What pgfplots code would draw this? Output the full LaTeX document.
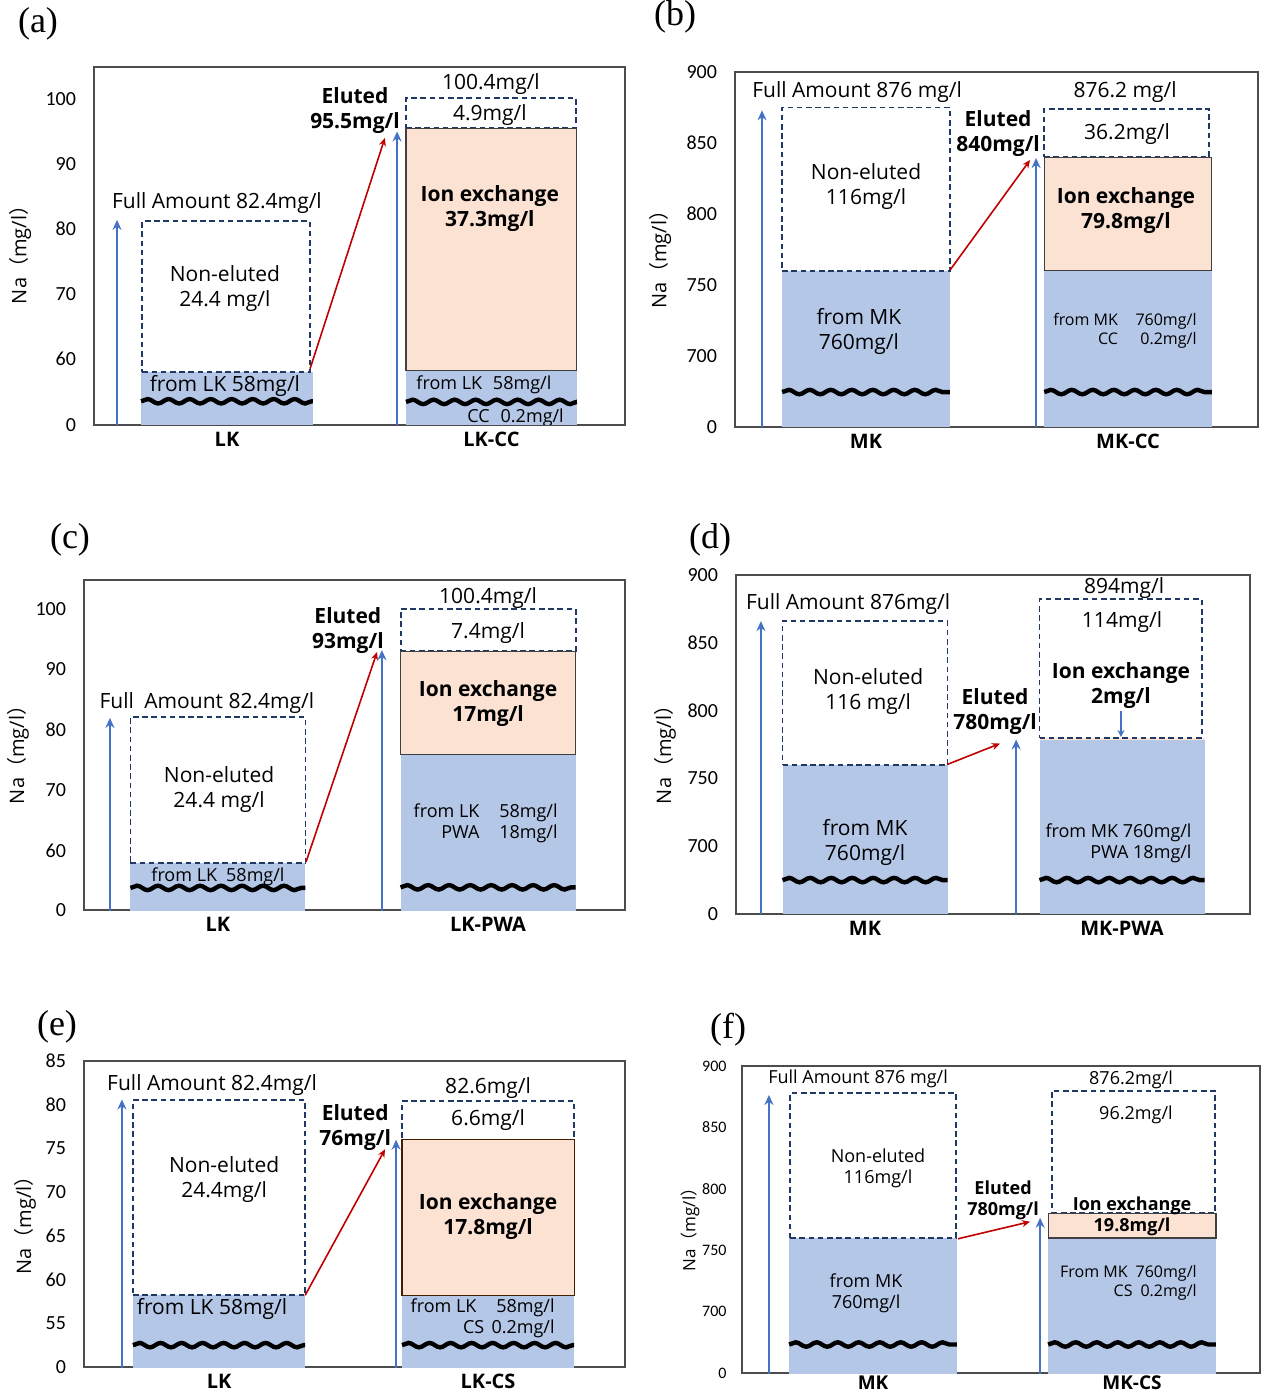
\documentclass[border=0pt]{standalone}
\usepackage{fontspec}
\setmainfont{Open Sans}
\newfontfamily\carlito{Carlito}
\newfontfamily\cjk{Noto Sans CJK SC}
\newfontfamily\panelfont{Liberation Serif}
\usepackage{pgfplots}
\pgfplotsset{compat=1.18}
\usetikzlibrary{arrows.meta,decorations.pathmorphing}

\definecolor{barblue}{RGB}{180,199,231}
\definecolor{peach}{RGB}{251,226,211}
\definecolor{navy}{RGB}{31,56,100}
\definecolor{arrblue}{RGB}{68,114,196}
\definecolor{arrred}{RGB}{192,0,0}

\newcommand{\fr}{\fontsize{10.5}{12.5}\selectfont}
\newcommand{\fb}{\bfseries\fontsize{10.5}{12.5}\selectfont}
\newcommand{\fs}{\fontsize{9}{10.5}\selectfont}
\newcommand{\fss}{\fontsize{8}{9.5}\selectfont}
\newcommand{\nalabel}{Na{\cjk （}mg/l{\cjk ）}}

\tikzset{
  dashrect/.style={draw=navy, dash pattern=on 2.8pt off 1.8pt, line width=0.95pt, fill=white},
  bluebar/.style={fill=barblue, draw=none},
  peachbar/.style={fill=peach, draw=black!75, line width=0.6pt},
  fullarrow/.style={arrblue, line width=1.3pt, -{Stealth[length=5pt,width=4.5pt]}},
  smallarrow/.style={arrblue, line width=0.9pt, -{Stealth[length=3.5pt,width=3.5pt]}},
  redarrow/.style={arrred, line width=0.8pt, -{Stealth[length=4pt,width=3.5pt]}},
  wavy/.style={line width=2.2pt, black, decorate, decoration={snake, amplitude=1.1pt, segment length=10.5pt}},
}
\pgfplotsset{
  panel/.style={scale only axis, anchor=south west,
    axis line style={black!70, line width=0.7pt},
    tick style={draw=none}, major tick length=0pt,
    xtick={0,1},
    xticklabel style={font=\bfseries\fontsize{10}{12}\selectfont},
    yticklabel style={font=\carlito\fontsize{10}{12}\selectfont, xshift=-5.5pt},
    /pgf/number format/assume math mode=true,
    ylabel style={font=\fontsize{10}{12}\selectfont, anchor=center},
  },
}

\begin{document}
\begin{tikzpicture}
\useasboundingbox (0,0) rectangle (630pt,-698pt);

% ---------------- (a)
\begin{axis}[panel, at={(47pt,-212.5pt)}, width=265.5pt, height=179pt,
  xmin=-0.503, xmax=1.505, ymin=49.85, ymax=104.92,
  ytick={49.85,60,70,80,90,100}, yticklabels={0,60,70,80,90,100},
  xticklabels={LK,LK-CC},
  ylabel={\nalabel}, ylabel style={at={(axis description cs:-0.139,0.489)}}]
\addplot[bluebar] coordinates {(-0.325,0) (0.325,0) (0.325,58) (-0.325,58)} -- cycle;
\addplot[dashrect] coordinates {(-0.32,58) (0.315,58) (0.315,81.2) (-0.32,81.2)} -- cycle;
\addplot[bluebar] coordinates {(0.677,0) (1.323,0) (1.323,58.2) (0.677,58.2)} -- cycle;
\addplot[dashrect] coordinates {(0.677,95.5) (1.318,95.5) (1.318,100.2) (0.677,100.2)} -- cycle;
\addplot[peachbar] coordinates {(0.677,58.2) (1.323,58.2) (1.323,95.5) (0.677,95.5)} -- cycle;
\addplot[fullarrow] coordinates {(-0.416,0) (-0.416,81.4)};
\addplot[redarrow] coordinates {(0.314,58.5) (0.597,94.0)};
\addplot[fullarrow] coordinates {(0.643,0) (0.643,95.0)};
\draw[wavy] (axis cs:-0.325,53.5) -- (axis cs:0.325,53.5);
\draw[wavy] (axis cs:0.677,53.4) -- (axis cs:1.323,53.4);
\node[font=\fr] at (axis cs:-0.038,84.0) {Full Amount 82.4mg/l};
\node[font=\fr, align=center] at (axis cs:-0.008,70.9) {Non-eluted\\24.4 mg/l};
\node[font=\fr] at (axis cs:-0.008,55.9) {from LK 58mg/l};
\node[font=\fb, align=center] at (axis cs:0.484,98.15) {Eluted\\95.5mg/l};
\node[font=\fr] at (axis cs:0.998,102.3) {100.4mg/l};
\node[font=\fr] at (axis cs:0.994,97.6) {4.9mg/l};
\node[font=\fb, align=center] at (axis cs:0.994,83.2) {Ion exchange\\37.3mg/l};
\node[font=\fs, anchor=east, inner sep=0pt] at (axis cs:1.228,56.0) {from LK\hspace{0.6em}58mg/l};
\node[font=\fs, anchor=east, inner sep=0pt] at (axis cs:1.275,50.9) {CC\hspace{0.6em}0.2mg/l};
\end{axis}
\node[font=\panelfont\fontsize{18}{20}\selectfont] at (19pt,-12pt) {(a)};

% ---------------- (b)
\begin{axis}[panel, at={(367.5pt,-213.5pt)}, width=261.5pt, height=177.5pt,
  xmin=-0.5, xmax=1.496, ymin=650, ymax=900,
  ytick={650,700,750,800,850,900}, yticklabels={0,700,750,800,850,900},
  xticklabels={MK,MK-CC},
  ylabel={\nalabel}, ylabel style={at={(axis description cs:-0.143,0.485)}}]
\addplot[bluebar] coordinates {(-0.32,0) (0.32,0) (0.32,760) (-0.32,760)} -- cycle;
\addplot[dashrect] coordinates {(-0.32,760) (0.32,760) (0.32,875) (-0.32,875)} -- cycle;
\addplot[bluebar] coordinates {(0.68,0) (1.32,0) (1.32,760) (0.68,760)} -- cycle;
\addplot[dashrect] coordinates {(0.68,840) (1.31,840) (1.31,874) (0.68,874)} -- cycle;
\addplot[peachbar] coordinates {(0.68,760) (1.32,760) (1.32,840) (0.68,840)} -- cycle;
\addplot[fullarrow] coordinates {(-0.397,0) (-0.397,873)};
\addplot[redarrow] coordinates {(0.321,760.6) (0.626,838)};
\addplot[fullarrow] coordinates {(0.649,0) (0.649,839.4)};
\draw[wavy] (axis cs:-0.32,674.6) -- (axis cs:0.32,674.6);
\draw[wavy] (axis cs:0.68,674.6) -- (axis cs:1.32,674.6);
\node[font=\fr] at (axis cs:-0.034,885.9) {Full Amount 876 mg/l};
\node[font=\fr, align=center] at (axis cs:0,819) {Non-eluted\\116mg/l};
\node[font=\fr, align=center] at (axis cs:-0.027,717.6) {from MK\\760mg/l};
\node[font=\fb, align=center] at (axis cs:0.504,857) {Eluted\\840mg/l};
\node[font=\fr] at (axis cs:0.989,885.9) {876.2 mg/l};
\node[font=\fr] at (axis cs:0.996,856.3) {36.2mg/l};
\node[font=\fb, align=center] at (axis cs:0.992,802.1) {Ion exchange\\79.8mg/l};
\node[font=\fss, anchor=east, inner sep=0pt] at (axis cs:1.263,717.6)
  {\begin{tabular}{@{}r@{\hspace{1.1em}}r@{}}from MK & 760mg/l\\ CC & 0.2mg/l\end{tabular}};
\end{axis}
\node[font=\panelfont\fontsize{18}{20}\selectfont] at (337.5pt,-8.5pt) {(b)};

% ---------------- (c)
\begin{axis}[panel, at={(42pt,-455pt)}, width=270.5pt, height=165pt,
  xmin=-0.496, xmax=1.507, ymin=50.25, ymax=104.8,
  ytick={50.25,60,70,80,90,100}, yticklabels={0,60,70,80,90,100},
  xticklabels={LK,LK-PWA},
  ylabel={\nalabel}, ylabel style={at={(axis description cs:-0.122,0.485)}}]
\addplot[bluebar] coordinates {(-0.324,0) (0.324,0) (0.324,58) (-0.324,58)} -- cycle;
\addplot[dashrect] coordinates {(-0.324,58) (0.324,58) (0.324,82.1) (-0.324,82.1)} -- cycle;
\addplot[bluebar] coordinates {(0.676,0) (1.324,0) (1.324,76) (0.676,76)} -- cycle;
\addplot[dashrect] coordinates {(0.676,93) (1.324,93) (1.324,100) (0.676,100)} -- cycle;
\addplot[peachbar] coordinates {(0.676,76) (1.324,76) (1.324,93) (0.676,93)} -- cycle;
\addplot[fullarrow] coordinates {(-0.4,0) (-0.4,82)};
\addplot[redarrow] coordinates {(0.326,58.2) (0.589,92.9)};
\addplot[fullarrow] coordinates {(0.607,0) (0.607,93.2)};
\draw[wavy] (axis cs:-0.324,53.9) -- (axis cs:0.324,53.9);
\draw[wavy] (axis cs:0.676,54.0) -- (axis cs:1.324,54.0);
\node[font=\fr] at (axis cs:-0.041,84.5) {Full\hspace{0.5em}Amount 82.4mg/l};
\node[font=\fr, align=center] at (axis cs:0.004,70.1) {Non-eluted\\24.4 mg/l};
\node[font=\fs] at (axis cs:0,55.8) {from LK\hspace{0.5em}58mg/l};
\node[font=\fb, align=center] at (axis cs:0.481,96.5) {Eluted\\93mg/l};
\node[font=\fr] at (axis cs:1,101.8) {100.4mg/l};
\node[font=\fr] at (axis cs:1,96.0) {7.4mg/l};
\node[font=\fb, align=center] at (axis cs:1,84.3) {Ion exchange\\17mg/l};
\node[font=\fs, anchor=east, inner sep=0pt] at (axis cs:1.259,64.5)
  {\begin{tabular}{@{}r@{\hspace{1.1em}}r@{}}from LK & 58mg/l\\ PWA & 18mg/l\end{tabular}};
\end{axis}
\node[font=\panelfont\fontsize{18}{20}\selectfont] at (35pt,-270pt) {(c)};

% ---------------- (d)
\begin{axis}[panel, at={(368pt,-457pt)}, width=257pt, height=169.5pt,
  xmin=-0.502, xmax=1.498, ymin=650, ymax=900,
  ytick={650,700,750,800,850,900}, yticklabels={0,700,750,800,850,900},
  xticklabels={MK,MK-PWA},
  ylabel={\nalabel}, ylabel style={at={(axis description cs:-0.138,0.484)}}]
\addplot[bluebar] coordinates {(-0.321,0) (0.321,0) (0.321,760) (-0.321,760)} -- cycle;
\addplot[dashrect] coordinates {(-0.321,760) (0.321,760) (0.321,866) (-0.321,866)} -- cycle;
\addplot[bluebar] coordinates {(0.679,0) (1.321,0) (1.321,778) (0.679,778)} -- cycle;
\addplot[fill=peach, draw=none] coordinates {(0.679,778) (1.321,778) (1.321,780) (0.679,780)} -- cycle;
\addplot[dashrect, fill=none] coordinates {(0.679,780) (1.31,780) (1.31,882) (0.679,882)} -- cycle;
\addplot[fullarrow] coordinates {(-0.405,0) (-0.405,866)};
\addplot[redarrow] coordinates {(0.319,760.2) (0.525,775.7)};
\addplot[fullarrow] coordinates {(0.588,0) (0.588,778.7)};
\addplot[smallarrow] coordinates {(0.996,799.4) (0.996,780.5)};
\draw[wavy] (axis cs:-0.321,675) -- (axis cs:0.321,675);
\draw[wavy] (axis cs:0.679,675) -- (axis cs:1.321,675);
\node[font=\fr] at (axis cs:-0.066,878.6) {Full Amount 876mg/l};
\node[font=\fr, align=center] at (axis cs:0.012,814.2) {Non-eluted\\116 mg/l};
\node[font=\fr, align=center] at (axis cs:0,702.5) {from MK\\760mg/l};
\node[font=\fb, align=center] at (axis cs:0.506,799.4) {Eluted\\780mg/l};
\node[font=\fr] at (axis cs:1.008,890.5) {894mg/l};
\node[font=\fr] at (axis cs:1.0,865.2) {114mg/l};
\node[font=\fb, align=center] at (axis cs:0.996,818.6) {Ion exchange\\2mg/l};
\node[font=\fs, anchor=east, align=right, inner sep=0pt] at (axis cs:1.272,702.5) {from MK 760mg/l\\PWA 18mg/l};
\end{axis}
\node[font=\panelfont\fontsize{18}{20}\selectfont] at (355pt,-270pt) {(d)};

% ---------------- (e)
\begin{axis}[panel, at={(42pt,-683.5pt)}, width=270.5pt, height=153pt,
  xmin=-0.502, xmax=1.509, ymin=50, ymax=85,
  ytick={50,55,60,65,70,75,80,85}, yticklabels={0,55,60,65,70,75,80,85},
  xticklabels={LK,LK-CS},
  ylabel={\nalabel}, ylabel style={at={(axis description cs:-0.109,0.48)}}]
\addplot[bluebar] coordinates {(-0.32,0) (0.32,0) (0.32,58.2) (-0.32,58.2)} -- cycle;
\addplot[dashrect] coordinates {(-0.32,58.2) (0.32,58.2) (0.32,80.5) (-0.32,80.5)} -- cycle;
\addplot[bluebar] coordinates {(0.68,0) (1.32,0) (1.32,58.2) (0.68,58.2)} -- cycle;
\addplot[dashrect] coordinates {(0.68,76) (1.32,76) (1.32,80.4) (0.68,80.4)} -- cycle;
\addplot[fill=peach, draw=black!75!orange, line width=0.6pt] coordinates {(0.68,58.2) (1.32,58.2) (1.32,76) (0.68,76)} -- cycle;
\addplot[fullarrow] coordinates {(-0.361,0) (-0.361,80.6)};
\addplot[redarrow] coordinates {(0.32,58.2) (0.617,74.9)};
\addplot[fullarrow] coordinates {(0.658,0) (0.658,76)};
\draw[wavy] (axis cs:-0.32,52.5) -- (axis cs:0.32,52.5);
\draw[wavy] (axis cs:0.68,52.5) -- (axis cs:1.32,52.5);
\node[font=\fr] at (axis cs:-0.026,82.2) {Full Amount 82.4mg/l};
\node[font=\fr, align=center] at (axis cs:0.019,71.4) {Non-eluted\\24.4mg/l};
\node[font=\fr] at (axis cs:-0.026,56.6) {from LK 58mg/l};
\node[font=\fb, align=center] at (axis cs:0.506,77.4) {Eluted\\76mg/l};
\node[font=\fr] at (axis cs:1,81.9) {82.6mg/l};
\node[font=\fr] at (axis cs:1,78.3) {6.6mg/l};
\node[font=\fb, align=center] at (axis cs:1,67.2) {Ion exchange\\17.8mg/l};
\node[font=\fs, anchor=east, align=right, inner sep=0pt] at (axis cs:1.249,55.6) {from LK\hspace{1.1em}58mg/l\\CS\hspace{0.4em}0.2mg/l};
\end{axis}
\node[font=\panelfont\fontsize{18}{20}\selectfont] at (28.5pt,-513.5pt) {(e)};

% ---------------- (f)
\begin{axis}[panel, at={(371pt,-686.5pt)}, width=259pt, height=153.5pt,
  xmin=-0.506, xmax=1.494, ymin=650, ymax=900,
  ytick={650,700,750,800,850,900}, yticklabels={0,700,750,800,850,900},
  yticklabel style={font=\carlito\fontsize{8}{10}\selectfont, xshift=1.3pt},
  xticklabels={MK,MK-CS},
  xticklabel style={font=\bfseries\fontsize{9.5}{11}\selectfont, yshift=2pt},
  ylabel={\nalabel}, ylabel style={font=\fontsize{8.5}{10}\selectfont, at={(axis description cs:-0.1,0.48)}}]
\addplot[bluebar] coordinates {(-0.324,0) (0.324,0) (0.324,760) (-0.324,760)} -- cycle;
\addplot[dashrect] coordinates {(-0.32,760) (0.32,760) (0.32,878) (-0.32,878)} -- cycle;
\addplot[bluebar] coordinates {(0.676,0) (1.324,0) (1.324,760) (0.676,760)} -- cycle;
\addplot[dashrect] coordinates {(0.69,780) (1.32,780) (1.32,880) (0.69,880)} -- cycle;
\addplot[peachbar] coordinates {(0.676,760) (1.324,760) (1.324,780) (0.676,780)} -- cycle;
\addplot[fullarrow] coordinates {(-0.402,0) (-0.402,876.4)};
\addplot[redarrow] coordinates {(0.328,759.3) (0.606,773.2)};
\addplot[fullarrow] coordinates {(0.645,0) (0.645,776.4)};
\draw[wavy] (axis cs:-0.324,673.2) -- (axis cs:0.324,673.2);
\draw[wavy] (axis cs:0.676,673.2) -- (axis cs:1.324,673.2);
\node[font=\fs] at (axis cs:-0.058,889.4) {Full Amount 876 mg/l};
\node[font=\fs, align=center] at (axis cs:0.019,816.3) {Non-eluted\\116mg/l};
\node[font=\fs, align=center] at (axis cs:-0.027,714.6) {from MK\\760mg/l};
\node[font=\bfseries\fs, align=center] at (axis cs:0.502,791) {Eluted\\780mg/l};
\node[font=\fs] at (axis cs:0.996,888.6) {876.2mg/l};
\node[font=\fs] at (axis cs:1.015,860.2) {96.2mg/l};
\node[font=\bfseries\fs] at (axis cs:1,786.2) {Ion exchange};
\node[font=\bfseries\fs] at (axis cs:1,769.1) {19.8mg/l};
\node[font=\fss, anchor=east, align=right, inner sep=0pt] at (axis cs:1.251,723.6) {From MK\hspace{0.5em}760mg/l\\CS\hspace{0.5em}0.2mg/l};
\end{axis}
\node[font=\panelfont\fontsize{18}{20}\selectfont] at (364pt,-515pt) {(f)};

\end{tikzpicture}
\end{document}
